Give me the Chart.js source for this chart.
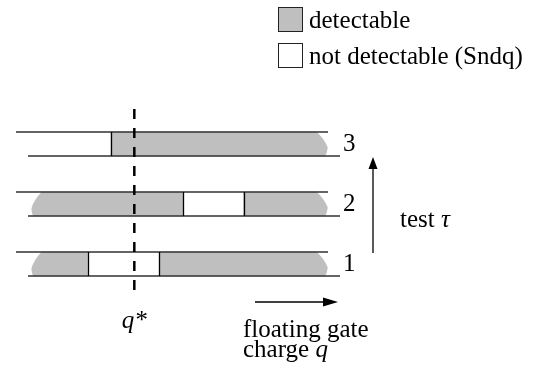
<!DOCTYPE html>
<html>
<head>
<meta charset="utf-8">
<script src="https://cdn.jsdelivr.net/npm/chart.js@4.4.0/dist/chart.umd.min.js"></script>
<style>
  html, body { margin: 0; padding: 0; background: #fff; }
  .wrap { position: relative; width: 552px; height: 371px; }
  .legend { position: absolute; left: 278px; top: 7px; font-family: "Liberation Serif", Tinos, "Times New Roman", Times, "DejaVu Serif", serif; font-size: 25px; color: #000; }
  .legend .item { display: flex; align-items: center; height: 25px; margin-bottom: 11px; white-space: nowrap; }
  .legend .box { width: 23px; height: 23px; border: 1px solid #222; margin-right: 6px; }
</style>
</head>
<body>
<div class="wrap">
  <canvas id="chart" width="552" height="371"></canvas>
  <div class="legend" id="legend"></div>
</div>
<script>
// tests, top to bottom as drawn
var tests = ['3', '2', '1'];
// charge range of every band (q units)
var qRange = [0, 10];
// visible (torn) extent of the detectable shading
var shaded = [0.3, 9.8];
// Sndq: charges each test can not detect
var notDetectable = [[0, 2.85], [5.15, 7.1], [2.1, 4.4]];
var qStar = 3.6;
var qTicks = ['q*'];

var GRAY = '#bfbfbf';
var FONT = '"Liberation Serif", Tinos, "Times New Roman", Times, "DejaVu Serif", serif';

// detectable = shaded band minus Sndq
var grayLeft = notDetectable.map(function(nd){
  return nd[0] > shaded[0] ? [shaded[0], nd[0]] : null;
});
var grayRight = notDetectable.map(function(nd){
  return nd[1] < shaded[1] ? [nd[1], shaded[1]] : null;
});

function arrow(ctx, x0, y0, x1, y1, len, half){
  var a = Math.atan2(y1 - y0, x1 - x0);
  ctx.beginPath();
  ctx.moveTo(x0, y0);
  ctx.lineTo(x1 - Math.cos(a) * len, y1 - Math.sin(a) * len);
  ctx.stroke();
  ctx.beginPath();
  ctx.moveTo(x1, y1);
  ctx.lineTo(x1 - Math.cos(a) * len - Math.sin(a) * half, y1 - Math.sin(a) * len + Math.cos(a) * half);
  ctx.lineTo(x1 - Math.cos(a) * len + Math.sin(a) * half, y1 - Math.sin(a) * len - Math.cos(a) * half);
  ctx.closePath();
  ctx.fill();
}

var sketch = {
  id: 'sketch',
  afterDatasetsDraw: function(chart){
    var ctx = chart.ctx;
    var xs = chart.scales.x, ys = chart.scales.y;
    var area = chart.chartArea;
    var skew = 6;
    ctx.save();

    // torn ends of the shading
    ctx.fillStyle = '#fff';
    [0, 1].forEach(function(di){
      chart.getDatasetMeta(di).data.forEach(function(bar, i){
        var v = chart.data.datasets[di].data[i];
        if (!v) return;
        var p = bar.getProps(['x', 'base', 'y', 'height'], true);
        var t = p.y - p.height / 2, b = p.y + p.height / 2, h = p.height;
        if (v[0] === shaded[0]) {
          var l = Math.min(p.x, p.base);
          ctx.beginPath();
          ctx.moveTo(l - 1, t - 1);
          ctx.lineTo(l + 11, t - 1);
          ctx.quadraticCurveTo(l + 2, t + h * 0.35, l, t + h * 0.7);
          ctx.quadraticCurveTo(l + 0.5, b - 2, l + 2, b + 1);
          ctx.lineTo(l - 1, b + 1);
          ctx.closePath();
          ctx.fill();
        }
        if (v[1] === shaded[1]) {
          var r = Math.max(p.x, p.base);
          ctx.beginPath();
          ctx.moveTo(r + 1, t - 1);
          ctx.lineTo(r - 12, t - 1);
          ctx.quadraticCurveTo(r - 3, t + h * 0.3, r, t + h * 0.65);
          ctx.quadraticCurveTo(r - 1, b - 2, r - 3, b + 1);
          ctx.lineTo(r + 1, b + 1);
          ctx.closePath();
          ctx.fill();
        }
      });
    });

    // band outlines and Sndq borders
    var meta = chart.getDatasetMeta(2);
    tests.forEach(function(name, i){
      var y = ys.getPixelForValue(i);
      var h = meta.data[i].height;
      var t = y - h / 2, b = y + h / 2;
      ctx.strokeStyle = '#333';
      ctx.lineWidth = 1.5;
      ctx.beginPath();
      ctx.moveTo(xs.getPixelForValue(qRange[0]) - skew, t);
      ctx.lineTo(xs.getPixelForValue(qRange[1]) - skew, t);
      ctx.moveTo(xs.getPixelForValue(qRange[0]) + skew, b);
      ctx.lineTo(xs.getPixelForValue(qRange[1]) + skew, b);
      ctx.stroke();
      ctx.strokeStyle = '#000';
      ctx.lineWidth = 1.3;
      notDetectable[i].forEach(function(q){
        if (q <= qRange[0] || q >= qRange[1]) return;
        var x = Math.round(xs.getPixelForValue(q)) + 0.5;
        ctx.beginPath();
        ctx.moveTo(x, t);
        ctx.lineTo(x, b);
        ctx.stroke();
      });
    });

    // q* marker
    var xq = xs.getPixelForValue(qStar);
    ctx.strokeStyle = '#000';
    ctx.lineWidth = 2.5;
    ctx.setLineDash([10, 9]);
    ctx.beginPath();
    ctx.moveTo(xq, area.top - 5);
    ctx.lineTo(xq, area.bottom - 1);
    ctx.stroke();
    ctx.setLineDash([]);

    // test tau arrow
    ctx.fillStyle = '#000';
    ctx.lineWidth = 1.3;
    var ax = area.right + 39;
    var y1 = ys.getPixelForValue(2) - 11, y3 = ys.getPixelForValue(0) + 13;
    arrow(ctx, ax, y1, ax, y3, 12, 4.5);
    ctx.font = '25px ' + FONT;
    ctx.textBaseline = 'alphabetic';
    ctx.textAlign = 'left';
    var ty = ys.getPixelForValue(1) + 23;
    ctx.fillText('test ', ax + 27, ty);
    var w = ctx.measureText('test ').width;
    ctx.font = 'italic 25px ' + FONT;
    ctx.fillText('\u03c4', ax + 27 + w, ty);

    // charge arrow
    var by = area.bottom + 8;
    arrow(ctx, area.right - 79, by, area.right + 4, by, 15, 4.5);
    ctx.font = '25px ' + FONT;
    var tx = area.right - 91;
    ctx.fillText('floating gate', tx, area.bottom + 43);
    ctx.fillText('charge ', tx, area.bottom + 63);
    w = ctx.measureText('charge ').width;
    ctx.font = 'italic 25px ' + FONT;
    ctx.fillText('q', tx + w, area.bottom + 63);

    ctx.restore();
  }
};

var chart = new Chart(document.getElementById('chart'), {
  type: 'bar',
  data: {
    labels: tests,
    datasets: [
      { label: 'detectable', data: grayLeft, backgroundColor: GRAY, borderWidth: 0, grouped: false, barThickness: 24 },
      { label: 'detectable', data: grayRight, backgroundColor: GRAY, borderWidth: 0, grouped: false, barThickness: 24 },
      { label: 'not detectable', data: notDetectable, backgroundColor: '#fff', borderWidth: 0, grouped: false, barThickness: 24 }
    ]
  },
  options: {
    indexAxis: 'y',
    responsive: false,
    animation: false,
    layout: { padding: { left: 22, top: 114 } },
    plugins: { legend: { display: false }, tooltip: { enabled: false } },
    scales: {
      x: {
        type: 'linear', min: qRange[0], max: qRange[1],
        grid: { display: false, drawTicks: false }, border: { display: false },
        afterBuildTicks: function(s){ s.ticks = [{ value: qStar }]; },
        afterFit: function(s){ s.height = 77; },
        ticks: {
          callback: function(v, i){ return qTicks[i]; },
          font: { family: FONT, size: 25, style: 'italic' }, color: '#000', padding: 12, maxRotation: 0
        }
      },
      y: {
        position: 'right',
        grid: { display: false, drawTicks: false }, border: { display: false },
        afterFit: function(s){ s.width = 218; },
        ticks: { font: { family: FONT, size: 25 }, color: '#000', padding: 9 }
      }
    }
  },
  plugins: [sketch]
});

// legend: one entry per distinct label
var legend = document.getElementById('legend');
var seen = {};
chart.data.datasets.forEach(function(ds){
  if (seen[ds.label]) return;
  seen[ds.label] = true;
  var item = document.createElement('div');
  item.className = 'item';
  var text = ds.label === 'not detectable' ? 'not detectable <span>(Sndq)</span>' : ds.label;
  item.innerHTML = "<div class='box' style='background:" + ds.backgroundColor + "'></div><div>" + text + "</div>";
  legend.appendChild(item);
});
</script>
</body>
</html>
